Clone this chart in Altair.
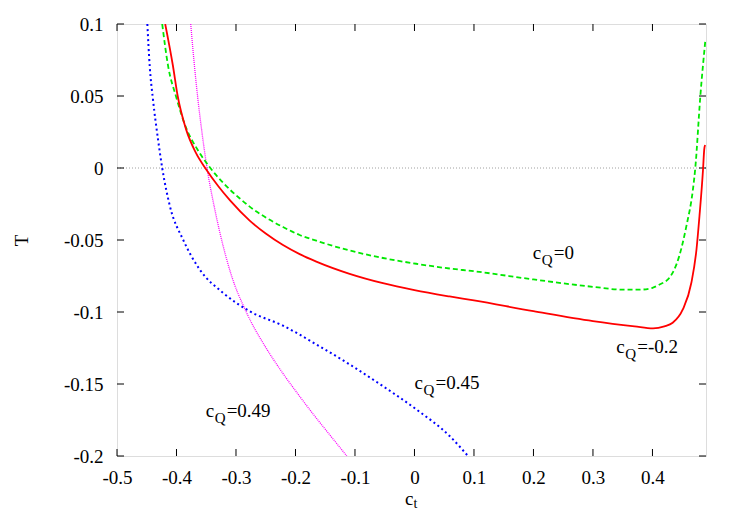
import altair as alt
import pandas as pd

# ---- data ----
red_x = [-0.419, -0.406, -0.398, -0.384, -0.368, -0.350, -0.330, -0.310, -0.277, -0.250,
         -0.221, -0.193, -0.165, -0.109, -0.053, 0.0, 0.059, 0.1, 0.2, 0.3, 0.37, 0.401,
         0.42, 0.434, 0.451, 0.4654, 0.474, 0.479, 0.485, 0.487, 0.4885]
red_y = [0.1, 0.071, 0.050, 0.027, 0.011, -0.001, -0.0125, -0.0225, -0.0365, -0.0455,
         -0.0535, -0.0598, -0.065, -0.0735, -0.080, -0.0848, -0.0892, -0.092, -0.0994, -0.1063, -0.110, -0.1114,
         -0.110, -0.1075, -0.0982, -0.0797, -0.0566, -0.0335, -0.001, 0.0128, 0.016]

green_x = [-0.424, -0.414, -0.401, -0.384, -0.365, -0.345, -0.320, -0.294, -0.277, -0.244,
           -0.221, -0.193, -0.165, -0.109, -0.053, 0.003, 0.059, 0.1, 0.2, 0.3, 0.35, 0.3785,
           0.40, 0.412, 0.4286, 0.445, 0.457, 0.468, 0.472, 0.4805, 0.489]
green_y = [0.1, 0.0706, 0.050, 0.028, 0.013, 0.001, -0.011, -0.021, -0.0268, -0.0358,
           -0.041, -0.0465, -0.0505, -0.0573, -0.0625, -0.0665, -0.0698, -0.0717, -0.0774, -0.0825, -0.0845, -0.0845,
           -0.0832, -0.0809, -0.0762, -0.0612, -0.0404, -0.015, 0.0, 0.050, 0.089]

blue_x = [-0.449, -0.445, -0.4395, -0.431, -0.424, -0.411, -0.389, -0.361, -0.322, -0.277,
          -0.221, -0.165, -0.109, -0.053, 0.003, 0.059, 0.090]
blue_y = [0.1, 0.0706, 0.0475, 0.0197, 0.0, -0.0266, -0.0497, -0.0705, -0.0866, -0.0995,
          -0.1095, -0.1225, -0.1364, -0.1515, -0.1676, -0.1861, -0.2]

mag_x = [-0.3761, -0.3708, -0.3647, -0.3578, -0.3487, -0.3345, -0.3092, -0.2824, -0.2513,
         -0.2239, -0.1976, -0.1699, -0.1430, -0.1138]
mag_y = [0.1, 0.0752, 0.0503, 0.0267, 0.0, -0.0309, -0.0726, -0.1003, -0.1237,
         -0.1410, -0.1560, -0.1711, -0.1850, -0.2]

x_ticks = [-0.5, -0.4, -0.3, -0.2, -0.1, 0.0, 0.1, 0.2, 0.3, 0.4]
y_ticks = [-0.2, -0.15, -0.1, -0.05, 0.0, 0.05, 0.1]

label_rest = ["=0", "=-0.2", "=0.45", "=0.49"]
label_x = [0.199, 0.339, 0.0, -0.351]
label_y = [-0.0635, -0.1283, -0.1535, -0.1732]

X_DOMAIN = [-0.5, 0.49]
Y_DOMAIN = [-0.2, 0.1]
W, H = 589, 432
FONT = "Liberation Serif"
FS = 19

xs = alt.Scale(domain=X_DOMAIN, nice=False, zero=False)
ys = alt.Scale(domain=Y_DOMAIN, nice=False, zero=False)

fix_minus = "replace(datum.label, '\u2212', '-')"

X_AX = alt.Axis(values=x_ticks, format="~g", labelExpr=fix_minus, title=None,
                ticks=False, tickSize=0, domain=False, grid=False,
                labelFont=FONT, labelFontSize=FS, labelColor="black",
                labelPadding=12, labelFlush=False, labelOverlap=False)
Y_AX = alt.Axis(values=y_ticks, format="~g", labelExpr=fix_minus, title=None,
                ticks=False, tickSize=0, domain=False, grid=False,
                labelFont=FONT, labelFontSize=FS, labelColor="black",
                labelPadding=14, labelFlush=False, labelOverlap=False)


def X(field):
    return alt.X(field, scale=xs, axis=X_AX, title=None)


def Y(field):
    return alt.Y(field, scale=ys, axis=Y_AX, title=None)


def curve(xv, yv, color, dash, width):
    df = pd.DataFrame({"x": xv, "y": yv})
    kw = dict(color=color, strokeWidth=width, clip=True, interpolate="monotone")
    if dash:
        kw["strokeDash"] = dash
    return alt.Chart(df).mark_line(**kw).encode(
        x=X("x:Q"), y=Y("y:Q"), order=alt.Order("x:Q"),
    )


xt_df = pd.DataFrame({"v": x_ticks})
yt_df = pd.DataFrame({"v": y_ticks})

tick_color = "black"
xt_bottom = alt.Chart(xt_df).mark_rule(color=tick_color, strokeWidth=1).encode(
    x=X("v:Q"), y=alt.value(H - 7), y2=alt.value(H))
xt_top = alt.Chart(xt_df).mark_rule(color=tick_color, strokeWidth=1).encode(
    x=X("v:Q"), y=alt.value(0), y2=alt.value(7))
yt_left = alt.Chart(yt_df).mark_rule(color=tick_color, strokeWidth=1).encode(
    y=Y("v:Q"), x=alt.value(0), x2=alt.value(7))
yt_right = alt.Chart(yt_df).mark_rule(color=tick_color, strokeWidth=1).encode(
    y=Y("v:Q"), x=alt.value(W - 7), x2=alt.value(W))

zero_line = alt.Chart(pd.DataFrame({"y": [0.0]})).mark_rule(
    color="#a0a0a0", strokeDash=[1, 2], strokeWidth=1).encode(y=Y("y:Q"))

red = curve(red_x, red_y, "#ff0000", None, 1.8)
green = curve(green_x, green_y, "#00e800", [5, 3], 1.8)
blue = curve(blue_x, blue_y, "#0000ff", [2, 3], 2)
magenta = curve(mag_x, mag_y, "#ff00ff", [1, 1], 1.3)

lab_df = pd.DataFrame({"x": label_x, "y": label_y, "rest": label_rest, "c": ["c"] * 4, "q": ["Q"] * 4})
lab_c = alt.Chart(lab_df).mark_text(font=FONT, fontSize=FS, align="left", baseline="alphabetic",
                                    color="black").encode(x=X("x:Q"), y=Y("y:Q"), text="c:N")
lab_q = alt.Chart(lab_df).mark_text(font=FONT, fontSize=15, align="left", baseline="alphabetic",
                                    color="black", dx=9, dy=6).encode(x=X("x:Q"), y=Y("y:Q"), text="q:N")
lab_r = alt.Chart(lab_df).mark_text(font=FONT, fontSize=FS, align="left", baseline="alphabetic",
                                    color="black", dx=21).encode(x=X("x:Q"), y=Y("y:Q"), text="rest:N")

one = pd.DataFrame({"a": [0]})
xtitle_c = alt.Chart(one).mark_text(text="c", font=FONT, fontSize=FS, align="left",
                                    baseline="alphabetic", color="black").encode(
    x=alt.value(288), y=alt.value(481))
xtitle_t = alt.Chart(one).mark_text(text="t", font=FONT, fontSize=14, align="left",
                                    baseline="alphabetic", color="black").encode(
    x=alt.value(296.5), y=alt.value(484))
ytitle = alt.Chart(one).mark_text(text="T", font=FONT, fontSize=FS, align="center",
                                  baseline="alphabetic", angle=270, color="black").encode(
    x=alt.value(-89), y=alt.value(216.5))

chart = alt.layer(
    zero_line, xt_bottom, xt_top, yt_left, yt_right,
    magenta, blue, green, red,
    lab_c, lab_q, lab_r, xtitle_c, xtitle_t, ytitle,
).properties(
    width=W, height=H,
    autosize=alt.AutoSizeParams(type="none"),
    padding={"left": 109, "top": 16, "right": 27, "bottom": 55},
).configure_view(
    stroke="black", strokeWidth=1
).configure(background="white")

chart.save("out.html", embed_options={"renderer": "svg", "actions": False})
